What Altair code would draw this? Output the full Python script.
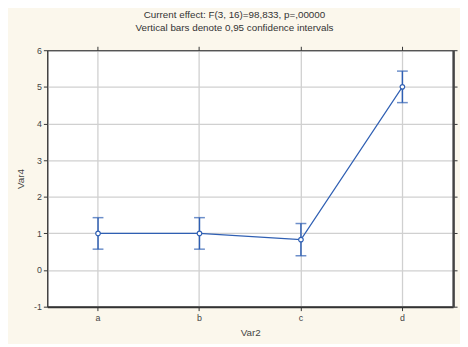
import altair as alt
import pandas as pd

categories = ["a", "b", "c", "d"]
means = [1.0, 1.0, 0.83, 5.0]
lower = [0.57, 0.57, 0.39, 4.57]
upper = [1.43, 1.43, 1.27, 5.43]
y_ticks = [-1, 0, 1, 2, 3, 4, 5, 6]

df = pd.DataFrame({"Var2": categories, "Var4": means, "lo": lower, "hi": upper})

BLUE = "#2f5fb3"
FONT = "Liberation Sans"

xscale = alt.Scale(domain=categories, paddingInner=0, paddingOuter=0)
yscale = alt.Scale(domain=[-1, 6], nice=False, zero=False)

x_axis = alt.Axis(orient="bottom", labelAngle=0, grid=True, tickBand="center",
                  domainWidth=2, domainColor="#333", labelPadding=3, titlePadding=5)
y_axis = alt.Axis(orient="left", values=y_ticks, grid=True, domainColor="#333",
                  labelOverlap=False, labelExpr="'' + datum.value", titlePadding=8)

def X(field="Var2:N"):
    return alt.X(field, scale=xscale, title="Var2", axis=x_axis)

def Y(field):
    return alt.Y(field, scale=yscale, title="Var4", axis=y_axis)

base = alt.Chart(df)

line = base.mark_line(color=BLUE, strokeWidth=1.2).encode(x=X(), y=Y("Var4:Q"))
rules = base.mark_rule(color=BLUE, strokeWidth=1.5).encode(x=X(), y=Y("lo:Q"), y2="hi:Q")
cap_lo = base.mark_tick(color=BLUE, size=11, thickness=1.5).encode(x=X(), y=Y("lo:Q"))
cap_hi = base.mark_tick(color=BLUE, size=11, thickness=1.5).encode(x=X(), y=Y("hi:Q"))
pts = base.mark_point(shape="circle", filled=True, fill="white", stroke=BLUE,
                      strokeWidth=1.2, size=22, opacity=1).encode(x=X(), y=Y("Var4:Q"))

frame = base.mark_point(opacity=0).encode(
    x=alt.X("Var2:N", scale=xscale, title=None,
            axis=alt.Axis(orient="top", labels=False, grid=False, domainColor="#333")),
    y=alt.Y("Var4:Q", scale=yscale, title=None,
            axis=alt.Axis(orient="right", labels=False, grid=False, values=y_ticks,
                          domainWidth=2.5, domainColor="#444")),
)

main = alt.layer(line, rules, cap_lo, cap_hi, pts)

chart = alt.layer(main, frame).resolve_axis(x="independent", y="independent").properties(
    width=413,
    height=261,
    autosize=alt.AutoSizeParams(type="none"),
    padding={"left": 40, "top": 40, "right": 7, "bottom": 35},
    background="#fbf7ec",
    title=alt.TitleParams(
        text=["Current effect: F(3, 16)=98,833, p=,00000",
              "Vertical bars denote 0,95 confidence intervals"],
        anchor="middle", frame="group", dx=-16, offset=13,
        fontSize=10, fontWeight="normal", color="#333", font=FONT, lineHeight=13,
    ),
).configure_view(
    fill="white", stroke="#333", strokeWidth=1
).configure_axis(
    labelFont=FONT, titleFont=FONT, labelFontSize=9, titleFontSize=10,
    labelColor="#444", titleColor="#444", titleFontWeight="normal",
    tickColor="#333", tickSize=4, labelPadding=2,
    gridColor="#d0d0d0", gridWidth=1.3,
)

chart.save("out.html", embed_options={"renderer": "svg", "actions": False})
